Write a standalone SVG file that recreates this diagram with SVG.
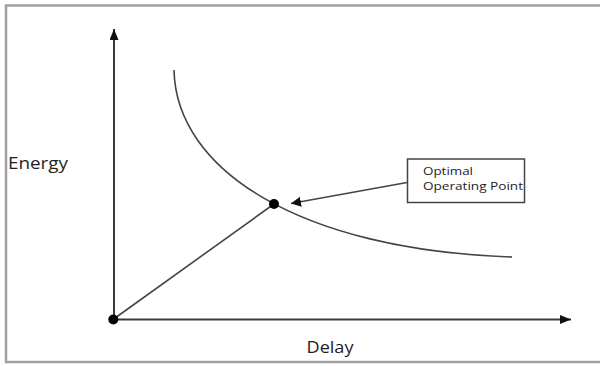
<svg xmlns="http://www.w3.org/2000/svg" width="600" height="366" viewBox="0 0 600 366">
<defs>
<style>
.ax{stroke:#3a3a3a;stroke-width:2;fill:none}
.ln{stroke:#444;stroke-width:1.6;fill:none}
.lbl{font-family:"Open Sans","Liberation Sans",sans-serif;fill:#1e1e1e;font-weight:normal}
</style>
<marker id="ah" markerWidth="11" markerHeight="11" refX="10" refY="5" orient="auto" markerUnits="userSpaceOnUse">
<path d="M0,0 L10,5 L0,10 Z" fill="#111"/>
</marker>
<marker id="ah2" markerWidth="12" markerHeight="10" refX="11" refY="4.5" orient="auto" markerUnits="userSpaceOnUse">
<path d="M0,0 L11,4.5 L0,9 Z" fill="#111"/>
</marker>
</defs>
<rect x="6" y="5.5" width="600" height="356.5" fill="#fff" stroke="#a0a0a0" stroke-width="2.5"/>
<g id="connectors">
<line class="ax" x1="114" y1="320" x2="114" y2="29" marker-end="url(#ah2)"/>
<line class="ax" x1="114" y1="319.5" x2="571" y2="319.5" marker-end="url(#ah2)"/>
<path class="ln" d="M174,70 C176,170 300,250 512,257"/>
<line class="ln" x1="113" y1="319.5" x2="274" y2="204"/>
<line class="ln" x1="407" y1="182.5" x2="291" y2="203.5" marker-end="url(#ah)"/>
</g>
<g id="origin"><circle cx="113.3" cy="319.5" r="5" fill="#000"/></g>
<g id="optimal-point"><circle cx="274" cy="204" r="5" fill="#000"/></g>
<g id="label-box">
<rect x="407.5" y="159" width="117" height="43.5" fill="#fff" stroke="#444" stroke-width="1.5"/>
<text class="lbl" x="423" y="174.5" font-size="11" textLength="50" lengthAdjust="spacingAndGlyphs">Optimal</text>
<text class="lbl" x="423" y="190" font-size="11" textLength="100" lengthAdjust="spacingAndGlyphs">Operating Point</text>
</g>
<g id="y-label"><text class="lbl" x="8" y="168.5" font-size="16" textLength="60" lengthAdjust="spacingAndGlyphs">Energy</text></g>
<g id="x-label"><text class="lbl" x="306.5" y="352.5" font-size="16" textLength="47" lengthAdjust="spacingAndGlyphs">Delay</text></g>
</svg>
